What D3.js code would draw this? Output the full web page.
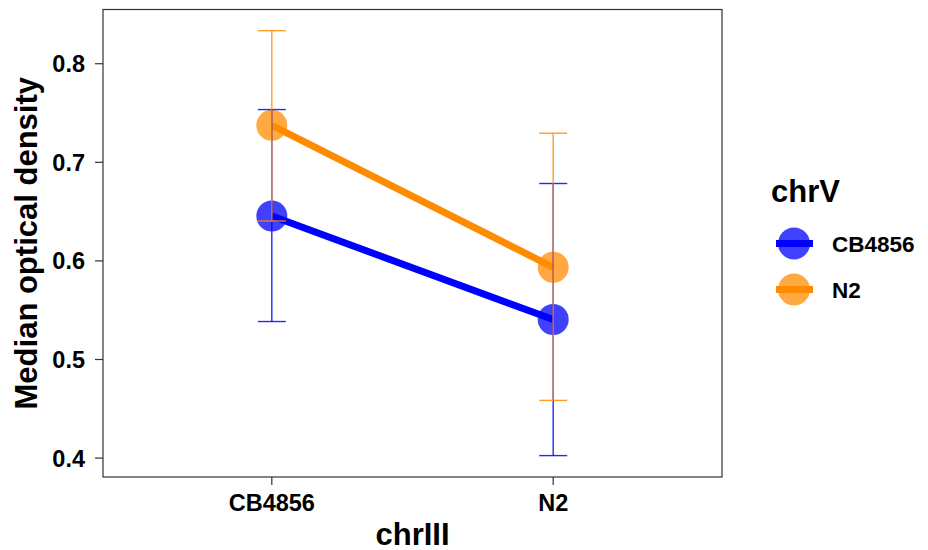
<!DOCTYPE html>
<html><head><meta charset="utf-8">
<script src="https://cdn.jsdelivr.net/npm/d3@7"></script>
<style>body{margin:0;background:#fff;}svg{display:block;font-family:"Liberation Sans",Arial,sans-serif;}</style>
</head><body><svg id="c" width="928" height="550"></svg>
<script>
const categories = ["CB4856", "N2"];           // chrIII
const seriesNames = ["CB4856", "N2"];          // chrV
const seriesColors = ["#0000FF", "#FF8C00"];
const meanCB4856 = [0.645, 0.540];
const lowCB4856  = [0.538, 0.402];
const highCB4856 = [0.753, 0.678];
const meanN2 = [0.737, 0.593];
const lowN2  = [0.640, 0.458];
const highN2 = [0.833, 0.729];
const yTicks = [0.4, 0.5, 0.6, 0.7, 0.8];

const series = [
  {name: seriesNames[0], color: seriesColors[0], mean: meanCB4856, low: lowCB4856, high: highCB4856},
  {name: seriesNames[1], color: seriesColors[1], mean: meanN2, low: lowN2, high: highN2}
];

const svg = d3.select("#c");
const L = 103, R = 722, T = 9.5, B = 477;
// discrete scale with 0.6 expansion on each side
const xp = d3.scaleLinear().domain([0.4, 2.6]).range([L, R]);
const xPos = c => xp(categories.indexOf(c) + 1);
const y = d3.scaleLinear().domain([0.3803, 0.8545]).range([B, T]);

const tickFont = "23.5px";
// y axis
const yAxis = d3.axisLeft(y).tickValues(yTicks).tickSize(8).tickPadding(10).tickFormat(d3.format(".1f"));
const gy = svg.append("g").attr("transform", `translate(${L},0)`).call(yAxis);
gy.select(".domain").remove();
gy.selectAll(".tick line").attr("stroke", "#333").attr("stroke-width", 1.2);
gy.selectAll(".tick text").attr("fill", "#000").attr("dy", "0.36em").style("font-size", tickFont).style("font-weight", "bold");

// x axis
const gx = svg.append("g").attr("transform", `translate(0,${B})`);
categories.forEach(c => {
  const g = gx.append("g").attr("transform", `translate(${xPos(c)},0)`);
  g.append("line").attr("y2", 8).attr("stroke", "#333").attr("stroke-width", 1.2);
  g.append("text").attr("y", 33.5).attr("text-anchor", "middle").attr("fill", "#000")
    .style("font-size", tickFont).style("font-weight", "bold").text(c);
});

// panel border
svg.append("rect").attr("x", L).attr("y", T).attr("width", R - L).attr("height", B - T)
  .attr("fill", "none").attr("stroke", "#333").attr("stroke-width", 1.2);

// points
series.forEach(s => {
  svg.append("g").selectAll("circle").data(categories).join("circle")
    .attr("cx", c => xPos(c)).attr("cy", (c, i) => y(s.mean[i])).attr("r", 15.5)
    .attr("fill", s.color).attr("fill-opacity", 0.75);
});
// lines
const line = d3.line().x(d => xPos(d.c)).y(d => y(d.v));
series.forEach(s => {
  svg.append("path").datum(categories.map((c, i) => ({c, v: s.mean[i]})))
    .attr("d", line).attr("fill", "none").attr("stroke", s.color).attr("stroke-width", 7);
});
// error bars
series.forEach(s => {
  const g = svg.append("g").attr("stroke", s.color).attr("stroke-width", 1.4).attr("stroke-opacity", 0.85);
  categories.forEach((c, i) => {
    const cx = xPos(c);
    g.append("line").attr("x1", cx).attr("x2", cx).attr("y1", y(s.low[i])).attr("y2", y(s.high[i]));
    g.append("line").attr("x1", cx - 14).attr("x2", cx + 14).attr("y1", y(s.low[i])).attr("y2", y(s.low[i]));
    g.append("line").attr("x1", cx - 14).attr("x2", cx + 14).attr("y1", y(s.high[i])).attr("y2", y(s.high[i]));
  });
});

// axis titles
svg.append("text").attr("x", (L + R) / 2).attr("y", 544.5).attr("text-anchor", "middle")
  .style("font-size", "31px").style("font-weight", "bold").attr("fill", "#000").text("chrIII");
svg.append("text").attr("transform", `translate(37,${(T + B) / 2}) rotate(-90)`).attr("text-anchor", "middle")
  .style("font-size", "31px").style("font-weight", "bold").attr("fill", "#000").text("Median optical density");

// legend
const lg = svg.append("g");
lg.append("text").attr("x", 771).attr("y", 201.5).style("font-size", "31px").style("font-weight", "bold").attr("fill", "#000").text("chrV");
series.forEach((s, i) => {
  const cy = 243.5 + i * 46;
  lg.append("circle").attr("cx", 794).attr("cy", cy).attr("r", 16).attr("fill", s.color).attr("fill-opacity", 0.75);
  lg.append("line").attr("x1", 776).attr("x2", 813).attr("y1", cy).attr("y2", cy).attr("stroke", s.color).attr("stroke-width", 7);
  lg.append("text").attr("x", 832).attr("y", cy + 8).style("font-size", "22.5px").style("font-weight", "bold").attr("fill", "#000").text(s.name);
});
</script></body></html>
